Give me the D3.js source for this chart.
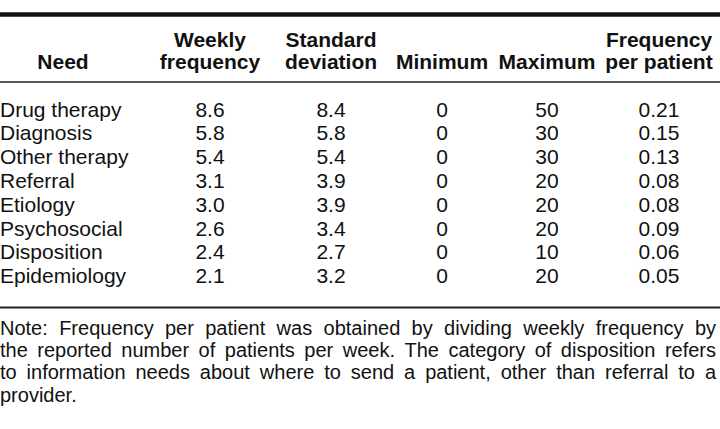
<!DOCTYPE html>
<html>
<head>
<meta charset="utf-8">
<script src="https://cdn.jsdelivr.net/npm/d3@7"></script>
<style>
	html, body { margin: 0; padding: 0; background: #fff; }
	svg { display: block; font-family: 'Liberation Sans', Arial, Helvetica, sans-serif; }
</style>
</head>
<body>
<svg id="table" width="720" height="429"></svg>
<script>
const needs = ['Drug therapy', 'Diagnosis', 'Other therapy', 'Referral', 'Etiology', 'Psychosocial', 'Disposition', 'Epidemiology'];
const weeklyFrequency = [8.6, 5.8, 5.4, 3.1, 3.0, 2.6, 2.4, 2.1];
const standardDeviation = [8.4, 5.8, 5.4, 3.9, 3.9, 3.4, 2.7, 3.2];
const minimum = [0, 0, 0, 0, 0, 0, 0, 0];
const maximum = [50, 30, 30, 20, 20, 20, 10, 20];
const perPatient = [0.21, 0.15, 0.13, 0.08, 0.08, 0.09, 0.06, 0.05];

const headers = [
	['', 'Need'],
	['Weekly', 'frequency'],
	['Standard', 'deviation'],
	['', 'Minimum'],
	['', 'Maximum'],
	['Frequency', 'per patient'],
];

const noteLines = [
	'Note: Frequency per patient was obtained by dividing weekly frequency by',
	'the reported number of patients per week. The category of disposition refers',
	'to information needs about where to send a patient, other than referral to a',
	'provider.',
];

const svg = d3.select('svg[id=table]');
const W = 720;

// column centres (the first column is left aligned in the body)
const colX = [63, 210, 331, 442, 547, 659];

const y = d3.scalePoint().domain(needs).range([116.5, 283.2]);

const columns = [
	{ values: weeklyFrequency, fmt: d3.format('.1f') },
	{ values: standardDeviation, fmt: d3.format('.1f') },
	{ values: minimum, fmt: d3.format('d') },
	{ values: maximum, fmt: d3.format('d') },
	{ values: perPatient, fmt: d3.format('.2f') },
];

// rules
svg.append('line').attr('x1', 0).attr('x2', W).attr('y1', 14.5).attr('y2', 14.5)
	.attr('stroke', '#111').attr('stroke-width', 4.5);
svg.append('line').attr('x1', 0).attr('x2', W).attr('y1', 82).attr('y2', 82)
	.attr('stroke', '#222').attr('stroke-width', 1.5);
svg.append('line').attr('x1', 0).attr('x2', W).attr('y1', 307.5).attr('y2', 307.5)
	.attr('stroke', '#222').attr('stroke-width', 1.8);

// header
const head = svg.append('g').attr('font-weight', 'bold').attr('font-size', 21)
	.attr('text-anchor', 'middle').attr('fill', '#111');
headers.forEach((h, i) => {
	h.forEach((line, j) => {
		if (!line) return;
		head.append('text').attr('x', colX[i]).attr('y', j === 0 ? 47 : 69).text(line);
	});
});

// body
const body = svg.append('g').attr('font-size', 21).attr('fill', '#111');
body.selectAll('.need')
	.data(needs)
	.join('text')
	.attr('class', 'need')
	.attr('x', 0)
	.attr('y', (d) => y(d))
	.text((d) => d);

columns.forEach((col, ci) => {
	body.selectAll('.col' + ci)
		.data(col.values)
		.join('text')
		.attr('class', 'col' + ci)
		.attr('text-anchor', 'middle')
		.attr('x', colX[ci + 1])
		.attr('y', (d, i) => y(needs[i]))
		.text((d) => col.fmt(d));
});

// note, justified to the table width
const noteRight = 716;
const note = svg.append('g').attr('font-size', 20).attr('fill', '#111');
noteLines.forEach((line, li) => {
	const baseline = 334.5 + li * 22.4;
	const words = line.split(' ');
	const texts = words.map((w) => note.append('text').attr('y', baseline).text(w));
	const widths = texts.map((t) => t.node().getComputedTextLength());
	const total = d3.sum(widths);
	const last = li === noteLines.length - 1;
	const gap = last || words.length < 2 ? 5.6 : (noteRight - total) / (words.length - 1);
	let x = 0;
	texts.forEach((t, i) => {
		t.attr('x', x);
		x += widths[i] + gap;
	});
});
</script>
</body>
</html>
